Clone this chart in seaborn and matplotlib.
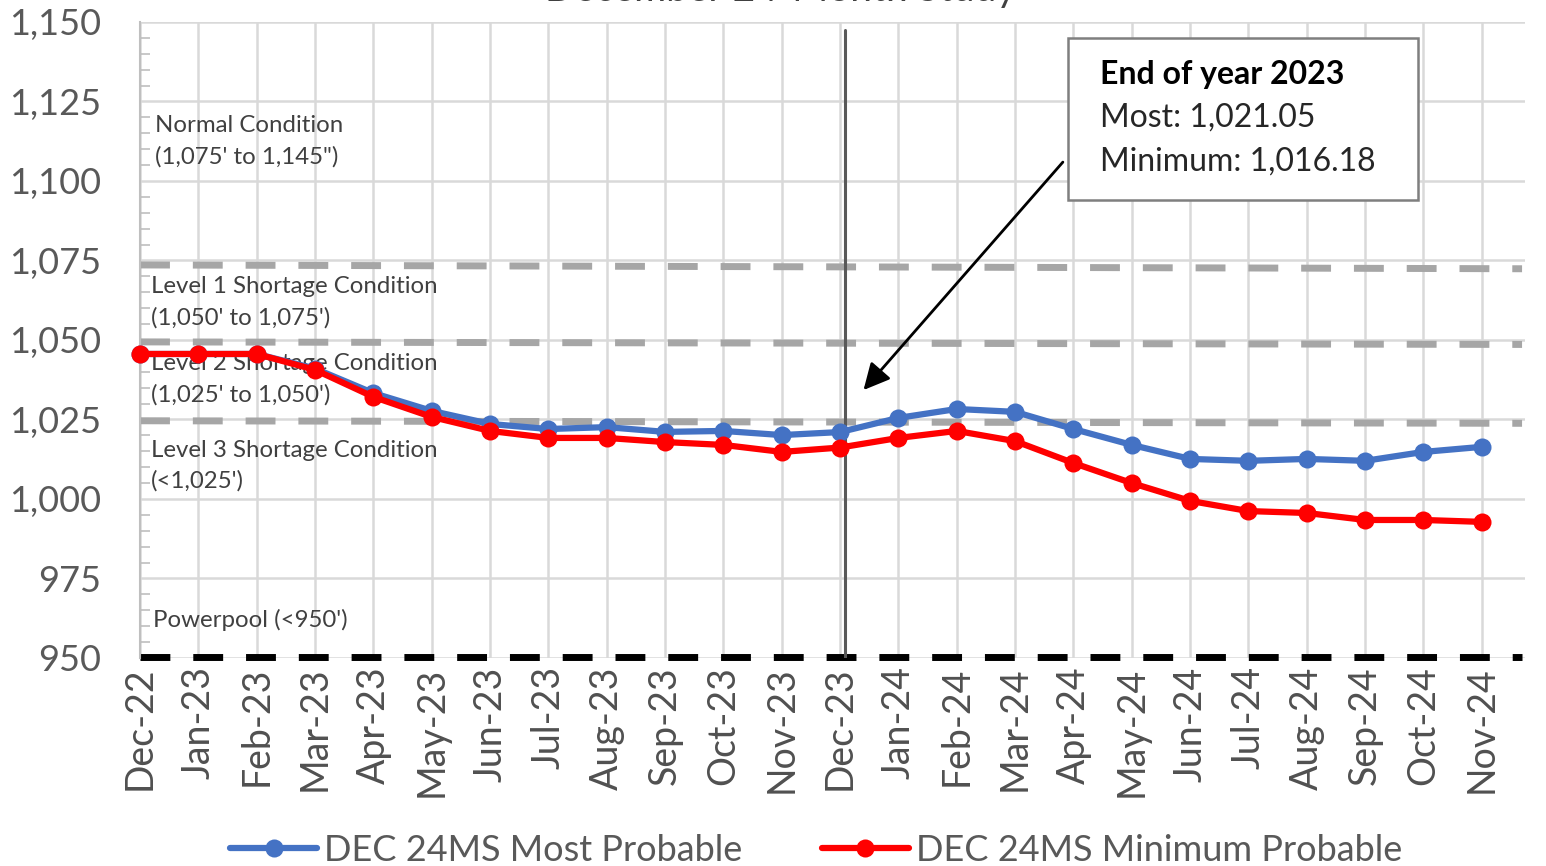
import numpy as np
import pandas as pd
import matplotlib
matplotlib.use('Agg')
import matplotlib.pyplot as plt
from matplotlib.ticker import FuncFormatter, MultipleLocator
from matplotlib.patches import Rectangle
import seaborn as sns

# data
months = ['Dec-22', 'Jan-23', 'Feb-23', 'Mar-23', 'Apr-23', 'May-23', 'Jun-23', 'Jul-23',
          'Aug-23', 'Sep-23', 'Oct-23', 'Nov-23', 'Dec-23', 'Jan-24', 'Feb-24', 'Mar-24',
          'Apr-24', 'May-24', 'Jun-24', 'Jul-24', 'Aug-24', 'Sep-24', 'Oct-24', 'Nov-24']
most_probable = [1045.6, 1045.6, 1045.6, 1041.0, 1033.3, 1027.7, 1023.6, 1022.0,
                 1022.6, 1021.1, 1021.4, 1020.1, 1021.05, 1025.5, 1028.3, 1027.4,
                 1022.0, 1017.0, 1012.6, 1012.0, 1012.6, 1012.0, 1014.8, 1016.4]
min_probable = [1045.6, 1045.6, 1045.6, 1040.6, 1032.1, 1025.8, 1021.4, 1019.2,
                1019.2, 1017.9, 1017.0, 1014.8, 1016.18, 1019.2, 1021.4, 1018.2,
                1011.3, 1005.0, 999.4, 996.2, 995.6, 993.4, 993.4, 992.8]
level_start = [1073.6, 1049.4, 1024.6]   # gray dashed threshold lines (left end)
level_end = [1072.4, 1048.6, 1023.8]     # (right end)
powerpool = 950.2

df = pd.DataFrame({'idx': np.arange(len(months)), 'most': most_probable, 'min': min_probable})

sns.set_style('white')
plt.rcParams['font.family'] = ['Lato', 'DejaVu Sans']

fig = plt.figure(figsize=(15.46, 8.66), dpi=100)
ax = fig.add_axes([0.0906, 0.2402, 0.8958, 0.7344])

x_right = 23.74
ax.set_xlim(0, x_right)
ax.set_ylim(950, 1150)

# gridlines / ticks
ax.set_xticks(df['idx'])
ax.set_xticklabels(months, rotation=90)
ax.yaxis.set_major_locator(MultipleLocator(25))
ax.yaxis.set_minor_locator(MultipleLocator(5))
ax.yaxis.set_major_formatter(FuncFormatter(lambda v, p: f'{v:,.0f}'))
ax.grid(True, which='major', color='#d9d9d9', lw=1.8)
ax.set_axisbelow(True)
ax.tick_params(axis='x', length=0, labelsize=27, labelcolor='#505050', pad=6)
ax.tick_params(axis='y', which='major', length=0, labelsize=26, labelcolor='#595959', pad=28)
ax.tick_params(axis='y', which='minor', direction='in', length=7, width=1.2, color='#bfbfbf', left=True)
for s in ['top', 'right', 'bottom']:
    ax.spines[s].set_visible(False)
ax.spines['left'].set_color('#bfbfbf')
ax.spines['left'].set_linewidth(1.5)

# threshold lines
for y0, y1 in zip(level_start, level_end):
    ax.plot([0, x_right - 0.05], [y0, y1], color='#a6a6a6', lw=5, dashes=(4.3, 3.3), zorder=2)
ax.plot([0, x_right - 0.05], [powerpool, powerpool], color='black', lw=5, dashes=(4.3, 3.3), zorder=2, clip_on=False)

# vertical marker at Dec-23
ax.plot([12.08, 12.08], [950, 1147.5], color='#595959', lw=2.2, zorder=3)

sns.lineplot(data=df, x='idx', y='most', ax=ax, color='#4472c4', lw=4.5, marker='o',
             markersize=13, markeredgewidth=0, label='DEC 24MS Most Probable', zorder=5, clip_on=False)
sns.lineplot(data=df, x='idx', y='min', ax=ax, color='#ff0000', lw=4.5, marker='o',
             markersize=13, markeredgewidth=0, label='DEC 24MS Minimum Probable', zorder=6, clip_on=False)
ax.set_xlabel('')
ax.set_ylabel('')

# condition labels
cond_labels = ["Normal Condition\n(1,075' to 1,145\")",
               "Level 1 Shortage Condition\n(1,050' to 1,075')",
               "Level 2 Shortage Condition\n(1,025' to 1,050')",
               "Level 3 Shortage Condition\n(<1,025')",
               "Powerpool (<950')"]
cond_y = [1112.4, 1061.8, 1037.6, 1010.5, 961.9]
cond_x = [0.011, 0.008, 0.008, 0.008, 0.009]
for t, x, y in zip(cond_labels, cond_x, cond_y):
    ax.text(x, y, t, transform=ax.get_yaxis_transform(), fontsize=17.3, color='#404040',
            va='center', ha='left', linespacing=1.55, zorder=4)

# callout box
ax.add_patch(Rectangle((0.670, 0.720), 0.253, 0.255, transform=ax.transAxes,
                       facecolor='white', edgecolor='#7f7f7f', lw=1.8, zorder=7))
ax.text(0.693, 0.917, 'End of year 2023', transform=ax.transAxes, fontsize=23,
        fontweight='bold', color='black', va='center', zorder=8)
ax.text(0.693, 0.849, 'Most: 1,021.05', transform=ax.transAxes, fontsize=23,
        color='#262626', va='center', zorder=8)
ax.text(0.693, 0.781, 'Minimum: 1,016.18', transform=ax.transAxes, fontsize=23,
        color='#262626', va='center', zorder=8)
ax.annotate('', xy=(12.37, 1033.6), xytext=(15.85, 1106.6),
            arrowprops=dict(arrowstyle='-|>', color='black', lw=2, mutation_scale=40), zorder=8)

# title (cropped at top in the reference)
fig.text(0.505, 1.012, 'December 24-Month Study', ha='center', va='center', fontsize=28, color='#404040')

ax.legend(loc='center', bbox_to_anchor=(0.528, 0.018), bbox_transform=fig.transFigure,
          ncol=2, frameon=False, fontsize=26, labelcolor='#595959', handlelength=2.4,
          columnspacing=2.2, handletextpad=0.2)

fig.savefig('out.png', dpi=100)
